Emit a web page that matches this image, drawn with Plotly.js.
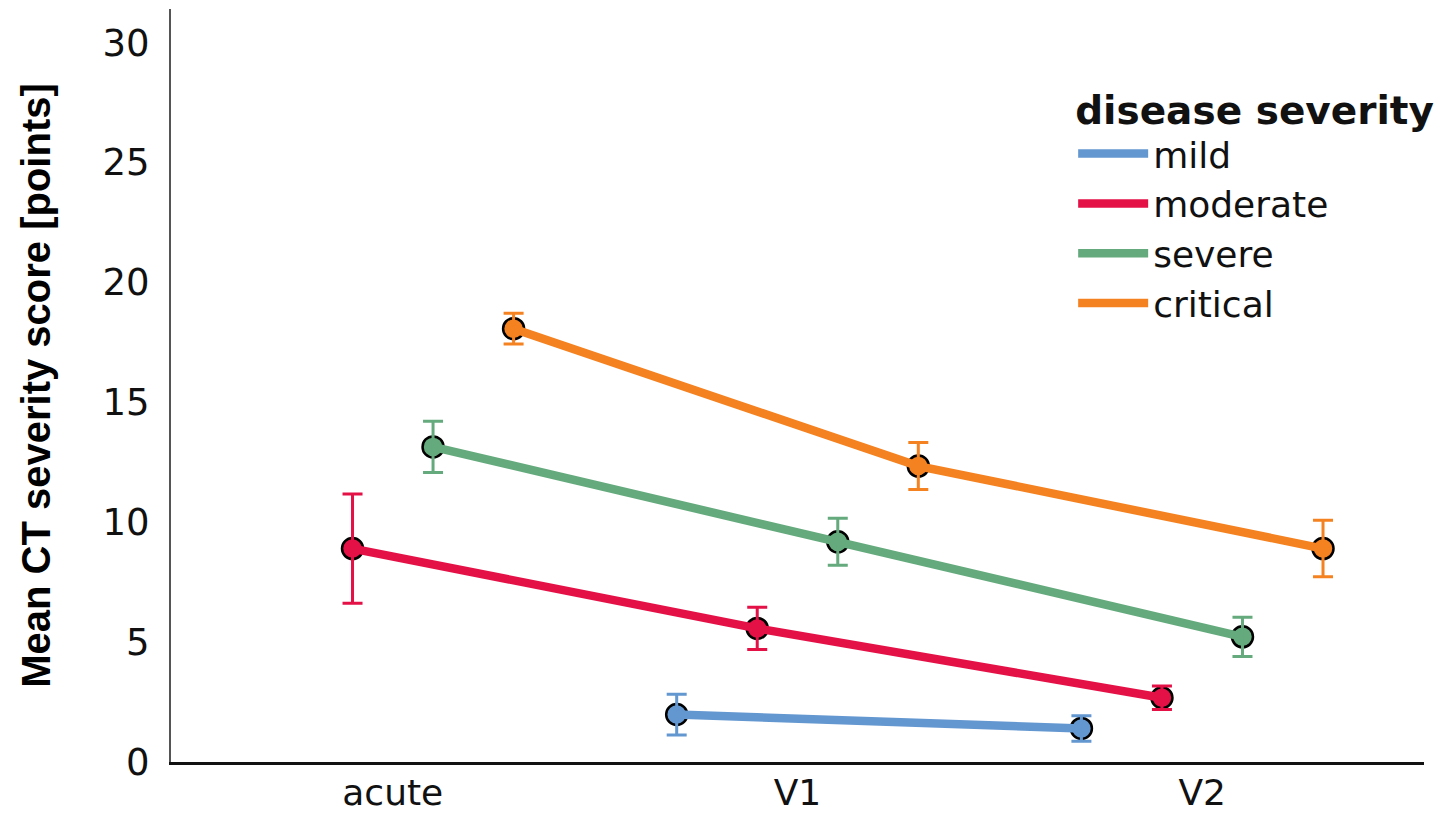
<!DOCTYPE html>
<html>
<head>
<meta charset="utf-8">
<script src="https://cdn.plot.ly/plotly-3.0.1.min.js"></script>
<style>html,body{margin:0;padding:0;background:#fff;overflow:hidden;}#chart{width:1445px;height:816px;}</style>
</head>
<body>
<div id="chart"></div>
<script>
const categories = ['acute', 'V1', 'V2'];
const seriesNames = ['mild', 'moderate', 'severe', 'critical'];
const mildMean = [null, 1.98, 1.40];
const mildErr = [null, 0.85, 0.53];
const moderateMean = [8.90, 5.57, 2.68];
const moderateErr = [2.28, 0.88, 0.49];
const severeMean = [13.14, 9.18, 5.22];
const severeErr = [1.07, 0.98, 0.82];
const criticalMean = [18.07, 12.34, 8.90];
const criticalErr = [0.64, 0.98, 1.18];
const yTicks = [0, 5, 10, 15, 20, 25, 30];

const means = [mildMean, moderateMean, severeMean, criticalMean];
const errs = [mildErr, moderateErr, severeErr, criticalErr];
const colors = ['#6397D0', '#E41147', '#64AA7D', '#F58220'];
const dodge = 0.199;

const traces = [];
// markers underneath
seriesNames.forEach((name, i) => {
  const xs = categories.map((c, k) => k + (i - 1.5) * dodge);
  traces.push({
    type: 'scatter', mode: 'markers', x: xs, y: means[i], showlegend: false,
    hoverinfo: 'skip',
    marker: {size: 21, color: colors[i], line: {color: '#000', width: 2.5}}
  });
});
// lines and error bars on top
seriesNames.forEach((name, i) => {
  const xs = categories.map((c, k) => k + (i - 1.5) * dodge);
  traces.push({
    type: 'scatter', mode: 'lines', name: name, x: xs, y: means[i],
    line: {color: colors[i], width: 8.5},
    error_y: {type: 'data', array: errs[i], visible: true, color: colors[i], thickness: 3, width: 10}
  });
});

const layout = {
  width: 1445, height: 816,
  margin: {l: 171, r: 11, t: 9, b: 54},
  paper_bgcolor: '#fff', plot_bgcolor: '#fff',
  showlegend: true,
  font: {family: 'DejaVu Sans, sans-serif', color: '#111'},
  xaxis: {
    range: [-0.548, 2.548], tickvals: [0, 1, 2], ticktext: categories,
    showgrid: false, zeroline: false, showline: true, linecolor: '#111', linewidth: 3,
    ticks: '', tickfont: {size: 36, family: 'DejaVu Sans, sans-serif', color: '#111'},
    ticklabelstandoff: -3
  },
  yaxis: {
    range: [0, 31.4], tickvals: yTicks,
    showgrid: false, zeroline: false, showline: true, linecolor: '#555', linewidth: 2,
    ticks: '', tickfont: {size: 37, family: 'DejaVu Sans, sans-serif', color: '#111'},
    ticklabelstandoff: 12,
    title: {text: 'Mean CT severity score [points]', font: {size: 40, family: 'Liberation Sans, Arial, sans-serif', color: '#000', weight: 'bold'}, standoff: 40},
    automargin: false
  },
  legend: {
    x: 0.72, y: 0.915, xanchor: 'left', yanchor: 'top',
    bgcolor: 'rgba(0,0,0,0)',
    font: {size: 36, family: 'DejaVu Sans, sans-serif', color: '#111'},
    title: {text: '<b>disease severity</b>', font: {size: 39, family: 'DejaVu Sans, sans-serif', color: '#111'}},
    itemwidth: 70
  }
};

Plotly.newPlot('chart', traces, layout, {displayModeBar: false, staticPlot: true});
</script>
</body>
</html>
